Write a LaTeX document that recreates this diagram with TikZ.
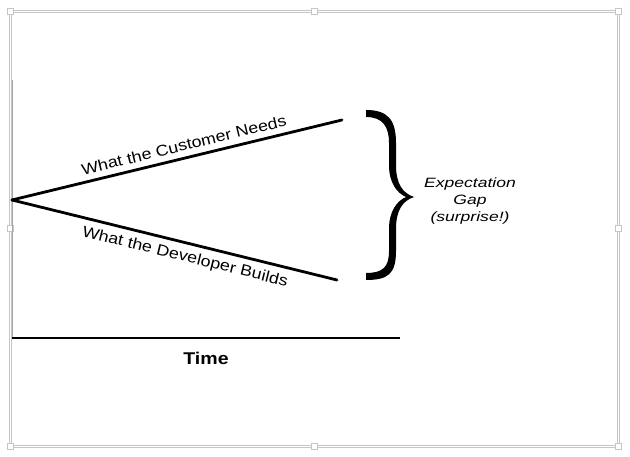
\documentclass[tikz,border=0pt]{standalone}
\usepackage{fontspec}
\setmainfont[FakeStretch=1.15]{Liberation Sans}
\newfontfamily\gapfont[FakeStretch=1.3]{Liberation Sans}
\usetikzlibrary{positioning}

\begin{document}
\begin{tikzpicture}[x=1bp,y=1bp,every node/.style={inner sep=1bp}]

\tikzstyle{trend}=[line width=2.8bp,line cap=round];
\tikzstyle{frame}=[draw=gray!45,line width=0.8bp];
\tikzstyle{handle}=[rectangle,draw=gray!45,fill=white,minimum size=6bp,inner sep=0pt];
\tikzstyle{linetext}=[font=\fontsize{15.5bp}{18bp}\selectfont];
\tikzstyle{gaptext}=[font=\gapfont\itshape\fontsize{13.5bp}{16.7bp}\selectfont,align=center];

\useasboundingbox (0,0) rectangle (630,457);

% selection frame
\draw[frame] (9,10) rectangle (619,447);
\draw[frame] (11,12) rectangle (617,445);
\foreach \x/\y in {10/11,314/11,618/11,10/228.5,618/228.5,10/446,314/446,618/446}
  \node[handle] at (\x,\y) {};

\coordinate (origin) at (12,119);
\coordinate (top) at (12,377);
\coordinate (timeend) at (400,119);
\coordinate (apex) at (12,257);
\coordinate (need) at (342,337);
\coordinate (build) at (337,177);

\draw[gray!70,line width=1bp] (top) -- (origin);
\draw[line width=2.5bp] (origin) -- (timeend);
\path (origin) -- (timeend) node[pos=.5,below=13bp,font=\bfseries\fontsize{17bp}{20bp}\selectfont] (time) {Time};

\draw[trend] (apex) -- (need);
\draw[trend] (apex) -- (build);
\path (apex) -- (need) node[linetext,pos=.53,sloped,above=6bp] (needtext) {What the Customer Needs};
\path (apex) -- (build) node[linetext,pos=.543,sloped,below=6bp] (buildtext) {What the Developer Builds};

% brace
\fill (366,347) .. controls (388,347) and (396,337) .. (396,314) -- (396,292)
  .. controls (396,274) and (402,264) .. (414,260)
  .. controls (402,256) and (396,246) .. (396,228) -- (396,206)
  .. controls (396,183) and (388,177) .. (366,177) -- (366,184)
  .. controls (383,184) and (389,190) .. (389,206) -- (389,228)
  .. controls (389,246) and (397,256) .. (406,260)
  .. controls (397,264) and (389,274) .. (389,292) -- (389,314)
  .. controls (389,330) and (383,340) .. (366,340) -- cycle;

\node[gaptext] (gap) at (470,256) {Expectation\\Gap\\(surprise!)};

\end{tikzpicture}
\end{document}
